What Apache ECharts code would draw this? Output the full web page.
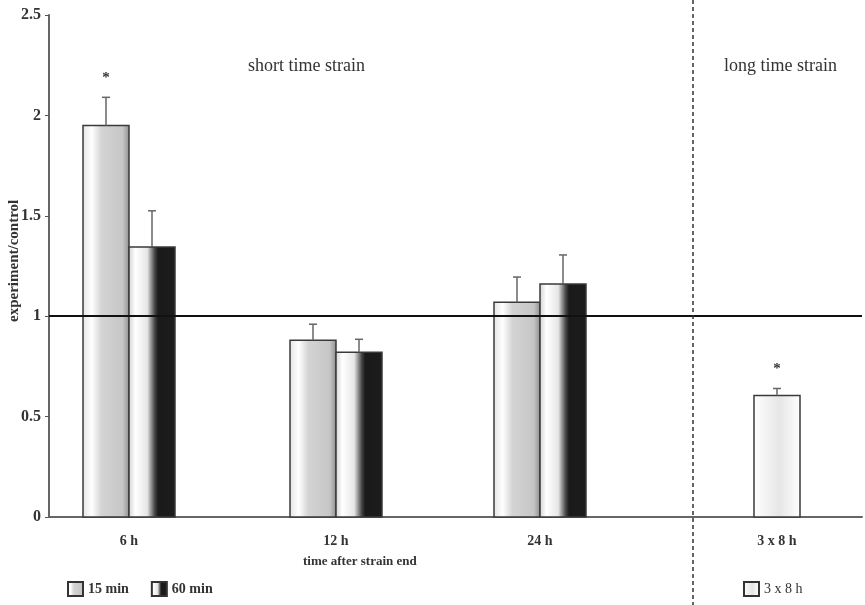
<!DOCTYPE html>
<html>
<head>
<meta charset="utf-8">
<script src="https://cdn.jsdelivr.net/npm/echarts@6/dist/echarts.min.js"></script>
<style>
  html, body { margin: 0; padding: 0; background: #fff; }
  #main { width: 865px; height: 605px; }
</style>
</head>
<body>
<div id="main"></div>
<script>
// data
var categories = ['6 h', '12 h', '24 h', '3 x 8 h'];
var catPos = [80, 287, 491, 728];      // group centres on the x scale
var yTicks = [0, 0.5, 1, 1.5, 2, 2.5];

var min15 = [1.95, 0.88, 1.07];
var err15 = [0.14, 0.08, 0.125];
var star15 = [1, 0, 0];

var min60 = [1.345, 0.82, 1.16];
var err60 = [0.18, 0.065, 0.145];

var long3x8 = [0.605];
var errLong = [0.035];
var starLong = [1];

var dividerX = 644;
var refLine = 1;

var FONT = '"Liberation Serif", "DejaVu Serif", serif';

var fill15 = {type: 'linear', x: 0, y: 0, x2: 1, y2: 0, colorStops: [
    {offset: 0, color: '#e4e4e4'}, {offset: 0.2, color: '#ffffff'},
    {offset: 0.4, color: '#d4d4d4'}, {offset: 0.85, color: '#c6c6c6'},
    {offset: 1, color: '#8c8c8c'}]};
var fill60 = {type: 'linear', x: 0, y: 0, x2: 1, y2: 0, colorStops: [
    {offset: 0, color: '#d0d0d0'}, {offset: 0.15, color: '#ffffff'},
    {offset: 0.4, color: '#e6e6e6'}, {offset: 0.56, color: '#444444'},
    {offset: 0.63, color: '#1a1a1a'}, {offset: 1, color: '#1c1c1c'}]};
var fillLong = {type: 'linear', x: 0, y: 0, x2: 1, y2: 0, colorStops: [
    {offset: 0, color: '#ffffff'}, {offset: 0.55, color: '#e6e6e6'},
    {offset: 1, color: '#ffffff'}]};

function rows(vals, errs, stars, shift) {
    return vals.map(function (v, i) {
        return [catPos[i] + shift, v, errs[i], stars ? stars[i] : 0];
    });
}

function barItem(fill) {
    return function (params, api) {
        var x = api.value(0), v = api.value(1), e = api.value(2), s = api.value(3);
        var w = api.size([46, 0])[0];
        var top = api.coord([x, v]);
        var base = api.coord([x, 0]);
        var et = api.coord([x, v + e]);
        var kids = [
            {type: 'rect', shape: {x: top[0] - w / 2, y: top[1], width: w, height: base[1] - top[1]},
             style: {fill: fill, stroke: '#3a3a3a', lineWidth: 1.5}},
            {type: 'line', shape: {x1: top[0], y1: top[1], x2: et[0], y2: et[1]},
             style: {stroke: '#666', lineWidth: 1.5}},
            {type: 'line', shape: {x1: et[0] - 4, y1: et[1], x2: et[0] + 4, y2: et[1]},
             style: {stroke: '#666', lineWidth: 1.5}}
        ];
        if (s) {
            kids.push({type: 'text', style: {text: '*', x: et[0], y: et[1] - 19,
                align: 'center', verticalAlign: 'middle', font: 'bold 15px ' + FONT, fill: '#333'}});
        }
        return {type: 'group', children: kids};
    };
}

var myChart = echarts.init(document.getElementById('main'));

var option = {
    animation: false,
    backgroundColor: '#fff',
    grid: {left: 49, right: 3, top: 15, bottom: 88},
    legend: [
        {left: 62, top: 576, itemWidth: 15, itemHeight: 14, itemGap: 22, icon: 'rect',
         data: ['15 min', '60 min'],
         textStyle: {fontFamily: FONT, fontSize: 14, fontWeight: 'bold', color: '#333'}},
        {left: 738, top: 576, itemWidth: 15, itemHeight: 14, icon: 'rect',
         data: ['3 x 8 h'],
         textStyle: {fontFamily: FONT, fontSize: 14, color: '#333'}}
    ],
    xAxis: {
        type: 'value', min: 0, max: 813,
        splitLine: {show: false},
        axisLabel: {show: false},
        axisTick: {show: false},
        axisLine: {show: true, onZero: false, lineStyle: {color: '#666', width: 2}}
    },
    yAxis: {
        type: 'value', min: 0, max: 2.5, interval: 0.5,
        splitLine: {show: false},
        axisLine: {show: true, lineStyle: {color: '#666', width: 2}},
        axisTick: {show: true, inside: false, length: 4, lineStyle: {color: '#555'}},
        axisLabel: {fontFamily: FONT, fontSize: 16, fontWeight: 'bold', color: '#333', margin: 8,
            formatter: function (v) { return yTicks.indexOf(v) >= 0 ? String(v) : ''; }}
    },
    series: [
        {name: '15 min', type: 'custom', renderItem: barItem(fill15), data: rows(min15, err15, star15, -23),
         itemStyle: {color: fill15, borderColor: '#333', borderWidth: 1.5}, z: 3,
         markLine: {symbol: 'none', silent: true, label: {show: false},
             lineStyle: {color: '#111', width: 2, type: 'solid'}, data: [{yAxis: refLine}]}},
        {name: '60 min', type: 'custom', renderItem: barItem(fill60), data: rows(min60, err60, null, 23),
         itemStyle: {color: fill60, borderColor: '#333', borderWidth: 1.5}, z: 3},
        {name: '3 x 8 h', type: 'custom', renderItem: barItem(fillLong),
         data: rows(long3x8, errLong, starLong, 0).map(function (r) { r[0] = catPos[3]; return r; }),
         itemStyle: {color: fillLong, borderColor: '#333', borderWidth: 1.5}, z: 3},
        {name: 'labels', type: 'custom', silent: true,
         data: categories.map(function (c, i) { return [catPos[i], 0]; }),
         renderItem: function (params, api) {
             var p = api.coord([api.value(0), 0]);
             return {type: 'text', style: {text: categories[params.dataIndex], x: p[0], y: p[1] + 24,
                 align: 'center', verticalAlign: 'middle', font: 'bold 14px ' + FONT, fill: '#333'}};
         }}
    ],
    graphic: [
        {type: 'text', left: 248, top: 57, style: {text: 'short time strain', font: '18px ' + FONT, fill: '#333'}},
        {type: 'text', left: 724, top: 57, style: {text: 'long time strain', font: '18px ' + FONT, fill: '#333'}},
        {type: 'text', left: 303, top: 555, style: {text: 'time after strain end', font: 'bold 13px ' + FONT, fill: '#333'}},
        {type: 'text', x: 7, y: 322, rotation: Math.PI / 2,
         style: {text: 'experiment/control', font: 'bold 15px ' + FONT, fill: '#333'}}
    ]
};
myChart.setOption(option);

// dashed divider through the whole picture, placed with the x scale
var dx = myChart.convertToPixel({xAxisIndex: 0}, dividerX);
myChart.setOption({graphic: option.graphic.concat([
    {type: 'line', shape: {x1: dx, y1: 0, x2: dx, y2: 605},
     style: {stroke: '#333', lineWidth: 1.5, lineDash: [4, 3]}, z: 10}
])});
</script>
</body>
</html>
